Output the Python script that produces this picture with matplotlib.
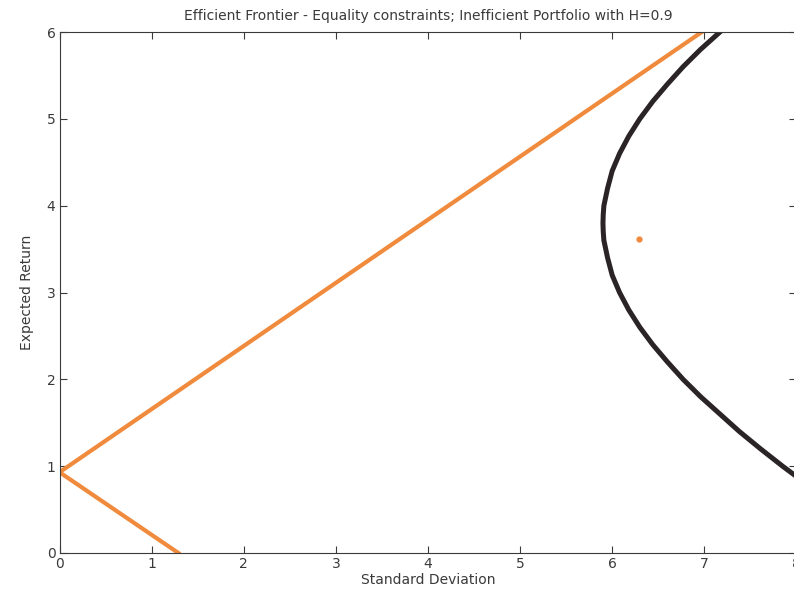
import numpy as np
import matplotlib.pyplot as plt

plt.rcParams['font.family'] = ['DejaVu Sans']

# efficient frontier
frontier_mu = [0.85, 1.0, 1.2, 1.4, 1.6, 1.8, 2.0, 2.2, 2.4, 2.6, 2.8, 3.0,
               3.2, 3.4, 3.5, 3.6, 3.7, 3.8, 3.9, 4.0, 4.1, 4.2, 4.4, 4.6,
               4.8, 5.0, 5.2, 5.4, 5.6, 5.8, 6.0, 6.1]
frontier_sd = [8.04, 7.85, 7.61, 7.38, 7.17, 6.96, 6.77, 6.60, 6.44, 6.30, 6.18, 6.08,
               6.00, 5.95, 5.93, 5.91, 5.903, 5.90, 5.903, 5.91, 5.93, 5.95, 6.00, 6.08,
               6.18, 6.30, 6.44, 6.60, 6.77, 6.96, 7.17, 7.27]

# capital market lines from risk-free rate
upper_sd = [0.0, 7.0]
upper_mu = [0.93, 6.02]
lower_sd = [0.0, 1.29]
lower_mu = [0.93, 0.0]

# inefficient portfolio
port_sd = [6.29]
port_mu = [3.62]

orange = '#f08a3c'
dark = '#2b2427'
grey = '#3a3a3a'

fig = plt.figure(figsize=(7.94, 5.92), dpi=100)
ax = fig.add_axes([0.0750, 0.0659, 0.928, 0.880])

ax.plot(frontier_sd, frontier_mu, color=dark, lw=3.6, solid_joinstyle='round')
ax.plot(upper_sd, upper_mu, color=orange, lw=3.0)
ax.plot(lower_sd, lower_mu, color=orange, lw=3.0)
ax.plot(port_sd, port_mu, 'o', color=orange, ms=4.5, mec='none')

ax.set_xlim(0, 8)
ax.set_ylim(0, 6)
ax.set_xticks(range(0, 9))
ax.set_yticks(range(0, 7))
ax.tick_params(direction='in', top=True, right=True, length=5, width=0.8,
               colors=grey, labelsize=10, pad=3)
for s in ax.spines.values():
    s.set_color(grey)
    s.set_linewidth(0.8)

ax.set_title('Efficient Frontier - Equality constraints; Inefficient Portfolio with H=0.9',
             fontsize=10, color=grey, pad=9)
ax.set_xlabel('Standard Deviation', fontsize=10, color=grey, labelpad=1)
ax.set_ylabel('Expected Return', fontsize=10, color=grey, labelpad=9)

fig.savefig('out.png', dpi=100)
